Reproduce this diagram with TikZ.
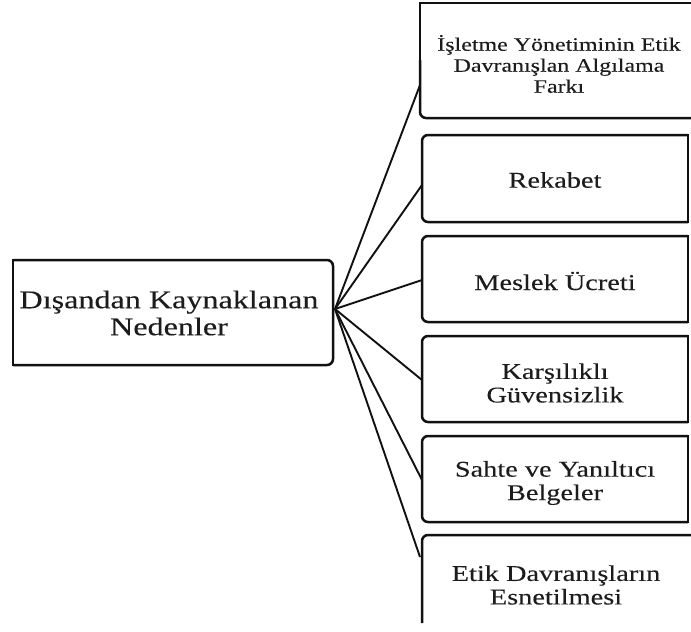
\documentclass[tikz,border=0pt]{standalone}
\usepackage{fontspec}
\setmainfont{Liberation Serif}[FakeStretch=1.26,FakeBold=0.2]
\definecolor{ink}{HTML}{111111}
\definecolor{txt}{HTML}{1c1c1c}
\begin{document}
\begin{tikzpicture}[x=1pt,y=-1pt,
  boxline/.style={draw=ink,line width=2.5pt},
  conn/.style={draw=ink,line width=1.9pt},
  lbl/.style={text=txt,align=center,inner sep=0pt},
  bigt/.style={lbl,font=\fontsize{25.5}{27}\selectfont},
  midt/.style={lbl,font=\fontsize{22.5}{23.5}\selectfont},
  smlt/.style={lbl,font=\fontsize{19}{21}\selectfont}]
\useasboundingbox (0,0) rectangle (691,632);
% left box
\draw[boxline,line cap=rect] (13,260) -- (13,365);
\draw[boxline,rounded corners=6pt] (13,260) -- (333,260) -- (333,365) -- (13,365);
\node[bigt] (src) at (169,313) {Dışandan Kaynaklanan\\Nedenler};
\coordinate (hub) at (335,309);
% box 1
\draw[boxline] (691,3) -- (420,3) -- (420,60);
\draw[boxline,rounded corners=6pt] (420,60) -- (420,118) -- (691,118);
\node[smlt] (b1) at (559,64) {İşletme Yönetiminin Etik\\Davranışlan Algılama\\Farkı};
% boxes 2-5
\foreach \t/\b in {135/222,236/322,336/422,436/522}{
  \draw[boxline,rounded corners=6pt] (688,\t) -- (422,\t) -- (422,\b) -- (688,\b);
  \draw[boxline,line cap=rect] (688,\t) -- (688,\b);
}
\node[midt] (b2) at (555,180) {Rekabet};
\node[midt] (b3) at (555,281) {Meslek Ücreti};
\node[midt] (b4) at (555,383) {Karşılıklı\\Güvensizlik};
\node[midt] (b5) at (555,483) {Sahte ve Yanıltıcı\\Belgeler};
% box 6
\draw[boxline,rounded corners=6pt] (691,535) -- (422,535) -- (422,623);
\node[midt] (b6) at (556,585) {Etik Davranışların\\Esnetilmesi};
% connector ends
\coordinate (e1) at (420,85);
\coordinate (e2) at (422,185);
\coordinate (e3) at (422,280);
\coordinate (e4) at (422,380);
\coordinate (e5) at (422,480);
\coordinate (e6) at (420,557);
\foreach \e in {e1,e2,e3,e4,e5,e6}{\draw[conn] (hub) -- (\e);}
\end{tikzpicture}
\end{document}
